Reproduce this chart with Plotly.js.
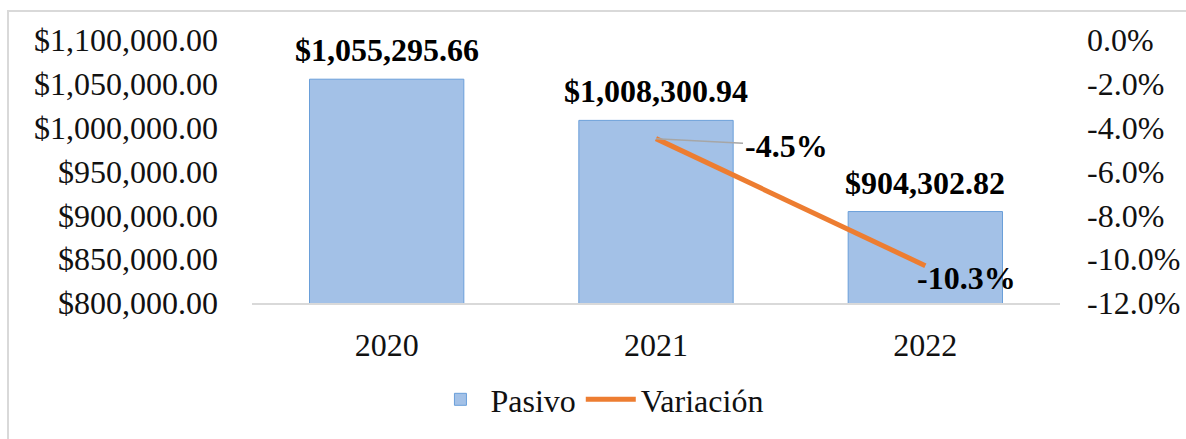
<!DOCTYPE html>
<html>
<head>
<meta charset="utf-8">
<script src="https://cdn.plot.ly/plotly-3.0.1.min.js"></script>
<style>
  html, body { margin: 0; padding: 0; background: #fff; }
  #frame { position: absolute; left: 7px; top: 10px; width: 1200px; height: 450px; border-left: 2px solid #d9d9d9; border-top: 2px solid #d9d9d9; box-sizing: border-box; }
  #chart { position: absolute; left: 0; top: 0; width: 1186px; height: 439px; }
</style>
</head>
<body>
<div id="frame"></div>
<div id="chart"></div>
<script>
// ---- data ----
const years = ['2020', '2021', '2022'];
const pasivo = [1055295.66, 1008300.94, 904302.82];
const variacion = [null, -0.045, -0.103];
const leftTickVals = [800000, 850000, 900000, 950000, 1000000, 1050000, 1100000];
const leftTickText = ['$800,000.00', '$850,000.00', '$900,000.00', '$950,000.00', '$1,000,000.00', '$1,050,000.00', '$1,100,000.00'];
const rightTickVals = [-0.12, -0.10, -0.08, -0.06, -0.04, -0.02, 0];
const rightTickText = ['-12.0%', '-10.0%', '-8.0%', '-6.0%', '-4.0%', '-2.0%', '0.0%'];

const FONT = '"Liberation Serif", "Times New Roman", serif';
const FS = 32;

function money(v) {
  return '$' + v.toLocaleString('en-US', {minimumFractionDigits: 2, maximumFractionDigits: 2});
}
function pct(v) {
  return (v * 100).toFixed(1) + '%';
}

const traces = [
  {
    type: 'bar', name: 'Pasivo', x: years, y: pasivo,
    marker: {color: '#a3c1e7', line: {color: '#6a9fd9', width: 1}},
    hoverinfo: 'skip'
  },
  {
    type: 'scatter', mode: 'lines', name: 'Variación', x: years, y: variacion,
    yaxis: 'y2', line: {color: '#ed7d31', width: 5}, connectgaps: false,
    hoverinfo: 'skip'
  }
];

const annotations = [];
years.forEach((yr, i) => {
  annotations.push({
    x: i, y: pasivo[i], xref: 'x', yref: 'y', text: '<b>' + money(pasivo[i]) + '</b>',
    showarrow: false, yanchor: 'bottom', yshift: 9,
    font: {family: FONT, size: FS, color: '#000'}
  });
});
// line labels
const lineLabelOffsets = [null, {ax: 130, ay: 7, arrow: true}, {ax: 41, ay: 12, arrow: false}];
years.forEach((yr, i) => {
  if (variacion[i] === null) return;
  const o = lineLabelOffsets[i];
  if (o.arrow) {
    annotations.push({
      x: i, y: variacion[i], xref: 'x', yref: 'y2', text: '<b>' + pct(variacion[i]) + '</b>',
      showarrow: true, arrowhead: 0, arrowwidth: 1.5, arrowcolor: '#a6a6a6',
      ax: o.ax, ay: o.ay, font: {family: FONT, size: FS, color: '#000'}
    });
  } else {
    annotations.push({
      x: i, y: variacion[i], xref: 'x', yref: 'y2', text: '<b>' + pct(variacion[i]) + '</b>',
      showarrow: false, xshift: o.ax, yshift: -o.ay,
      font: {family: FONT, size: FS, color: '#000'}
    });
  }
});

const layout = {
  width: 1186, height: 439,
  margin: {l: 252, r: 126, t: 40, b: 132},
  paper_bgcolor: 'rgba(0,0,0,0)', plot_bgcolor: 'rgba(0,0,0,0)',
  font: {family: FONT, size: FS, color: '#111'},
  bargap: 0.427,
  showlegend: true,
  legend: {orientation: 'h', x: 0.43, xanchor: 'center', y: -0.367, yanchor: 'middle',
           font: {family: FONT, size: FS, color: '#111'}, itemwidth: 50, bgcolor: 'rgba(0,0,0,0)'},
  xaxis: {
    type: 'category', showgrid: false, zeroline: false,
    showline: true, linecolor: '#d9d9d9', linewidth: 2,
    ticks: '', ticklabelstandoff: 13,
    tickfont: {family: FONT, size: FS, color: '#111'}
  },
  yaxis: {
    range: [800000, 1100000], tickmode: 'array', tickvals: leftTickVals, ticktext: leftTickText,
    showgrid: false, zeroline: false, showline: false, ticks: '',
    ticklabelstandoff: 33,
    tickfont: {family: FONT, size: FS, color: '#111'}
  },
  yaxis2: {
    overlaying: 'y', side: 'right',
    range: [-0.12, 0], tickmode: 'array', tickvals: rightTickVals, ticktext: rightTickText,
    showgrid: false, zeroline: false, showline: false, ticks: '',
    ticklabelstandoff: 26,
    tickfont: {family: FONT, size: FS, color: '#111'}
  },
  annotations: annotations
};

Plotly.newPlot('chart', traces, layout, {staticPlot: true, displayModeBar: false});
</script>
</body>
</html>
